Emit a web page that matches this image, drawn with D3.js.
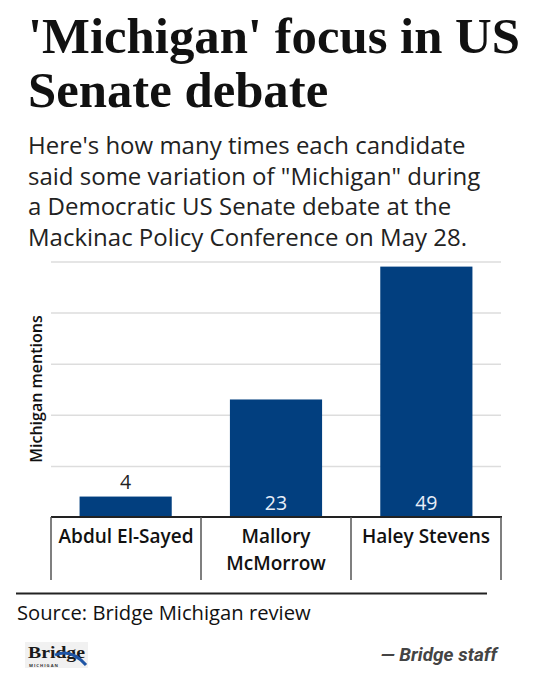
<!DOCTYPE html>
<html>
<head>
<meta charset="utf-8">
<script src="https://cdn.jsdelivr.net/npm/d3@7"></script>
<style>
  body { margin: 0; background: #fff; }
  text { font-family: "Open Sans", sans-serif; }
</style>
</head>
<body>
<script>
// Chart data
var candidates = ["Abdul El-Sayed", "Mallory McMorrow", "Haley Stevens"];
var labelLines = [["Abdul El-Sayed"], ["Mallory", "McMorrow"], ["Haley Stevens"]];
var mentions = [4, 23, 49];
var yTicks = [0, 10, 20, 30, 40, 50];

var titleLines = ["'Michigan' focus in US", "Senate debate"];
var subtitleLines = [
  "Here's how many times each candidate",
  "said some variation of \"Michigan\" during",
  "a Democratic US Senate debate at the",
  "Mackinac Policy Conference on May 28."
];

var width = 548, height = 680;
var plotLeft = 51, plotRight = 501, plotTop = 261, plotBottom = 517;

var svg = d3.select("body").append("svg")
    .attr("width", width)
    .attr("height", height);

// Title
var title = svg.append("g");
title.selectAll("text")
    .data(titleLines)
    .enter().append("text")
    .attr("x", 28)
    .attr("y", function(d, i) { return 53 + i * 54; })
    .style("font-family", "'Liberation Serif', serif")
    .style("font-weight", "bold")
    .style("font-size", "50px")
    .attr("fill", "#111")
    .text(function(d) { return d; });

// scale title so first line spans the page like the original
var t0 = title.select("text").node().getComputedTextLength();
var fs = 50 * 492 / t0;
title.selectAll("text").style("font-size", fs + "px");

// Subtitle
svg.append("g").selectAll("text")
    .data(subtitleLines)
    .enter().append("text")
    .attr("x", 28)
    .attr("y", function(d, i) { return 154 + i * 30.7; })
    .style("font-size", "24px")
    .attr("fill", "#222")
    .text(function(d) { return d; });

// Scales
var x = d3.scaleBand()
    .domain(candidates)
    .range([plotLeft, plotRight])
    .paddingInner(0.387)
    .paddingOuter(0.19);

var xCell = d3.scaleBand()
    .domain(candidates)
    .range([plotLeft, plotRight]);

var y = d3.scaleLinear()
    .domain([0, 50])
    .range([plotBottom, plotTop + 0.5]);

// Gridlines
svg.append("g")
    .attr("transform", "translate(" + plotLeft + ",0)")
    .call(d3.axisLeft(y).tickValues(yTicks.slice(1)).tickSize(-(plotRight - plotLeft)).tickFormat(""))
    .call(function(g) { g.select(".domain").remove(); })
    .call(function(g) { g.selectAll(".tick line").attr("stroke", "#ddd").attr("stroke-width", 1.5); });

// Bars
svg.selectAll("rect.bar")
    .data(mentions)
    .enter().append("rect")
    .attr("class", "bar")
    .attr("x", function(d, i) { return x(candidates[i]); })
    .attr("width", x.bandwidth())
    .attr("y", function(d) { return y(d); })
    .attr("height", function(d) { return plotBottom - y(d); })
    .attr("fill", "#023f7f");

// Value labels: inside the bar when it is tall enough
svg.selectAll("text.value")
    .data(mentions)
    .enter().append("text")
    .attr("class", "value")
    .attr("x", function(d, i) { return x(candidates[i]) + x.bandwidth() / 2; })
    .attr("y", function(d) { return d > 10 ? plotBottom - 7.5 : y(d) - 7.5; })
    .attr("text-anchor", "middle")
    .style("font-size", "19.5px")
    .attr("fill", function(d) { return d > 10 ? "#e8eef8" : "#222"; })
    .text(function(d) { return d; });

// Baseline and category cells
svg.append("line")
    .attr("x1", plotLeft).attr("x2", plotRight + 1)
    .attr("y1", plotBottom).attr("y2", plotBottom)
    .attr("stroke", "#222").attr("stroke-width", 2);

var cellEdges = candidates.map(function(c) { return xCell(c); }).concat([plotRight]);
svg.selectAll("line.cell")
    .data(cellEdges)
    .enter().append("line")
    .attr("class", "cell")
    .attr("x1", function(d) { return d; }).attr("x2", function(d) { return d; })
    .attr("y1", plotBottom).attr("y2", 580)
    .attr("stroke", "#555").attr("stroke-width", 1.5);

var cats = svg.selectAll("text.cat")
    .data(labelLines)
    .enter().append("text")
    .attr("class", "cat")
    .attr("text-anchor", "middle")
    .style("font-size", "19px")
    .style("font-weight", "600")
    .attr("fill", "#111");
cats.selectAll("tspan")
    .data(function(d, i) { return d.map(function(s) { return { s: s, i: i }; }); })
    .enter().append("tspan")
    .attr("x", function(d) { return xCell(candidates[d.i]) + xCell.bandwidth() / 2; })
    .attr("y", function(d, j) { return 542.5 + j * 27.5; })
    .text(function(d) { return d.s; });

// Y axis title
svg.append("text")
    .attr("transform", "translate(42," + ((plotTop + plotBottom) / 2) + ") rotate(-90)")
    .attr("text-anchor", "middle")
    .style("font-size", "16px")
    .style("font-weight", "600")
    .attr("fill", "#111")
    .text("Michigan mentions");

// Footer
svg.append("line")
    .attr("x1", 16).attr("x2", 487)
    .attr("y1", 593.5).attr("y2", 593.5)
    .attr("stroke", "#222").attr("stroke-width", 2);

svg.append("text")
    .attr("x", 17).attr("y", 619.5)
    .style("font-size", "20.2px")
    .attr("fill", "#111")
    .text("Source: Bridge Michigan review");

svg.append("text")
    .attr("x", 497).attr("y", 661)
    .attr("text-anchor", "end")
    .style("font-family", "Roboto, sans-serif")
    .style("font-size", "19px")
    .style("font-weight", "bold")
    .style("font-style", "italic")
    .attr("fill", "#444")
    .text("— Bridge staff");

// Logo (approximation)
var logo = svg.append("g").attr("transform", "translate(25,642)");
logo.append("rect").attr("width", 63).attr("height", 26).attr("fill", "#f1f1f1");
logo.append("text")
    .attr("x", 3).attr("y", 16)
    .style("font-family", "'Liberation Serif', serif")
    .style("font-weight", "bold")
    .style("font-size", "17px")
    .attr("fill", "#1a1a1a")
    .attr("textLength", 57)
    .attr("lengthAdjust", "spacingAndGlyphs")
    .text("Bridge");
logo.append("text")
    .attr("x", 4).attr("y", 24.5)
    .style("font-size", "4.2px")
    .style("font-weight", "bold")
    .attr("fill", "#333")
    .attr("letter-spacing", "1")
    .text("MICHIGAN");
logo.append("path")
    .attr("d", "M30,13 Q46,6 61,23")
    .attr("fill", "none")
    .attr("stroke", "#1f55a5")
    .attr("stroke-width", 3);
</script>
</body>
</html>
